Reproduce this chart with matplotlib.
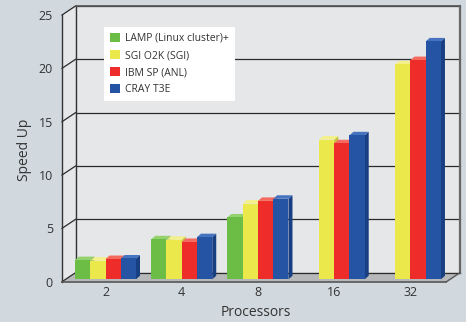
import matplotlib
matplotlib.use("Agg")
import matplotlib.pyplot as plt
from matplotlib.patches import Polygon, Rectangle, Patch
import matplotlib.transforms as mtransforms
import numpy as np

# ---------------- data ----------------
categories = ["2", "4", "8", "16", "32"]
series_names = ["LAMP (Linux cluster)+", "SGI O2K (SGI)", "IBM SP (ANL)", "CRAY T3E"]
lamp = [1.8, 3.75, 5.8, None, None]
sgi = [1.75, 3.7, 7.1, 13.1, 20.15]
ibm = [1.9, 3.5, 7.35, 12.75, 20.55]
cray = [1.95, 3.95, 7.55, 13.5, 22.3]
yticks = [0, 5, 10, 15, 20, 25]

front_cols = ["#6cbd45", "#ebe84c", "#ee2c2a", "#2454a3"]
top_cols = ["#93d26c", "#f3f08a", "#f46a5e", "#4673c0"]
side_cols = ["#4d9830", "#c6c23a", "#bf201d", "#183f82"]

FONT = ["Open Sans", "DejaVu Sans"]
plt.rcParams["font.family"] = FONT

W, H = 466, 322
fig = plt.figure(figsize=(W / 100, H / 100), dpi=100)
fig.patch.set_facecolor("#d1d9df")

front_left, front_right = 62, 446.5
front_bottom, front_top = 281.7, 15
ax = fig.add_axes([front_left / W, (H - front_bottom) / H,
                   (front_right - front_left) / W, (front_bottom - front_top) / H])
ax.set_axis_off()
ax.set_ylim(0, 25)
ax.set_xlim(-0.5235, 4.52)

# depth offsets in pixels (display)
DX, DY = 13.5, 9.0          # full depth of the floor / walls
BX, BY = 3.6, 2.4           # bar front-face offset from front plane
SX, SY = 4.0, 3.5           # bar thickness (side/top faces)

def disp(x, y, ox=0.0, oy=0.0):
    p = ax.transData.transform((x, y))
    return (p[0] + ox, p[1] + oy)

x0, x1 = ax.get_xlim()
ymax = yticks[-1]

def poly(pts, **kw):
    p = Polygon(pts, closed=True, transform=None, **kw)
    fig.patches.append(p)
    p.set_figure(fig)
    return p

wall_col = "#e6e7e8"
# back wall
poly([disp(x0, 0, DX, DY), disp(x1, 0, DX, DY), disp(x1, ymax, DX, DY), disp(x0, ymax, DX, DY)],
     facecolor=wall_col, edgecolor="none", zorder=1)
# left wall
poly([disp(x0, 0), disp(x0, 0, DX, DY), disp(x0, ymax, DX, DY), disp(x0, ymax)],
     facecolor=wall_col, edgecolor="none", zorder=1)
# floor
poly([disp(x0, 0), disp(x1, 0), disp(x1, 0, DX, DY), disp(x0, 0, DX, DY)],
     facecolor="#b6b8ba", edgecolor="none", zorder=2)

def line(pts, color="#333333", lw=1.0, z=3):
    xs, ys = zip(*pts)
    l = matplotlib.lines.Line2D(xs, ys, transform=None, color=color, lw=lw, zorder=z)
    fig.lines.append(l)
    l.set_figure(fig)

# gridlines on back and left walls
for t in yticks:
    line([disp(x0, t, DX, DY), disp(x1, t, DX, DY)], color="#2b2b2b", lw=0.9)
    line([disp(x0, t), disp(x0, t, DX, DY)], color="#2b2b2b", lw=0.9)
# wall edges
line([disp(x0, 0, DX, DY), disp(x0, ymax, DX, DY)], color="#333333", lw=1.0)
line([disp(x0, ymax, DX, DY), disp(x1, ymax, DX, DY)], color="#555555", lw=1.2)
line([disp(x1, 0, DX, DY), disp(x1, ymax, DX, DY)], color="#666666", lw=1.6)
# front axis lines
line([disp(x0, 0), disp(x0, ymax)], color="#333333", lw=1.0, z=6)
line([disp(x0, 0), disp(x1, 0)], color="#555555", lw=1.2, z=6)
line([disp(x1, 0), disp(x1, 0, DX, DY)], color="#555555", lw=1.0, z=6)

# bars
all_series = [lamp, sgi, ibm, cray]
n = len(all_series)
bw = 0.2
for gi in range(len(categories)):
    for si, vals in enumerate(all_series):
        v = vals[gi]
        if v is None:
            continue
        xl = gi + (si - n / 2) * bw
        xr = xl + bw
        fl_b = disp(xl, 0, BX, BY)
        fr_b = disp(xr, 0, BX, BY)
        fr_t = disp(xr, v, BX, BY)
        fl_t = disp(xl, v, BX, BY)
        z = 4 + gi * 0.01 + si * 0.001
        # side face
        poly([fr_b, (fr_b[0] + SX, fr_b[1] + SY), (fr_t[0] + SX, fr_t[1] + SY), fr_t],
             facecolor=side_cols[si], edgecolor="none", zorder=z)
        # top face
        poly([fl_t, fr_t, (fr_t[0] + SX, fr_t[1] + SY), (fl_t[0] + SX, fl_t[1] + SY)],
             facecolor=top_cols[si], edgecolor="none", zorder=z)
        # front face
        poly([fl_b, fr_b, fr_t, fl_t], facecolor=front_cols[si], edgecolor="none", zorder=z + 0.0005)

# tick labels
for gi, c in enumerate(categories):
    px, py = disp(gi, 0, BX, 0)
    fig.text(px / W, (py - 11) / H, c, ha="center", va="center", fontsize=9, color="#333333")
for t in yticks:
    px, py = disp(x0, t)
    fig.text((px - 9) / W, (py - 1.5) / H, str(t), ha="right", va="center", fontsize=9, color="#333333")

fig.text(256 / W, (H - 313) / H, "Processors", ha="center", va="center", fontsize=10, color="#333333")
fig.text(25 / W, (H - 150) / H, "Speed Up", ha="center", va="center", rotation=90,
         fontsize=10, color="#333333")

# legend
handles = [Patch(facecolor=c, edgecolor="none") for c in front_cols]
leg = fig.legend(handles, series_names, loc="upper left",
                 bbox_to_anchor=(104 / W, (H - 27) / H), frameon=True, fancybox=False,
                 fontsize=7.5, handlelength=1.0, handleheight=1.0, handletextpad=0.5,
                 labelspacing=0.56, borderpad=0.55, borderaxespad=0)
leg.get_frame().set_facecolor("white")
leg.get_frame().set_edgecolor("none")
leg.get_frame().set_alpha(1)
leg.set_zorder(20)
for t in leg.get_texts():
    t.set_color("#333333")

fig.savefig("out.png", dpi=100, facecolor=fig.get_facecolor())
